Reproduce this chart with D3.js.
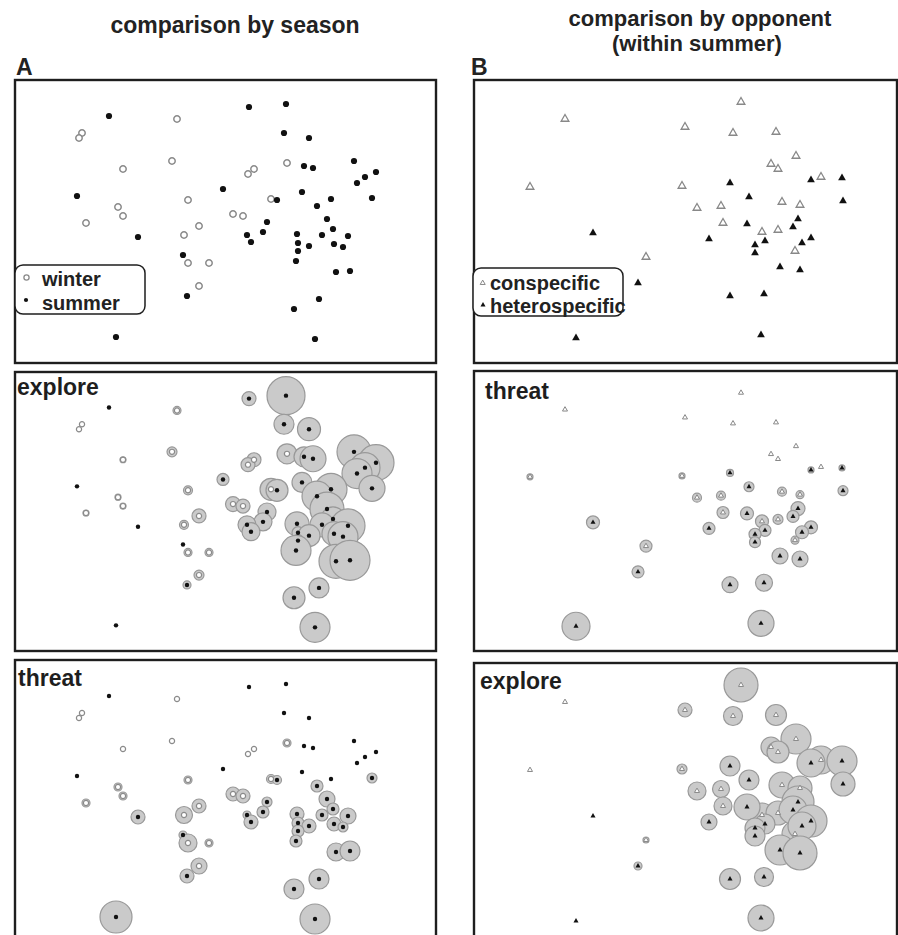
<!DOCTYPE html>
<html>
<head>
<meta charset="utf-8">
<script src="https://cdn.jsdelivr.net/npm/d3@7"></script>
<style>
  body { margin: 0; background: #fff; }
  svg { display: block; }
  text { font-family: Arial, "Liberation Sans", sans-serif; }
</style>
</head>
<body>
<svg width="898" height="935"></svg>
<script>
// ---- A: comparison by season (ordination scores, arbitrary units) ----
var seasonA = ["S","W","W","W","W","W","S","S","W","W","W","W","W","S","W","S","W","W","W","S","S","W",
               "S","S","S","S","W","S","S","S","W","W","S","S","S","S","W","S","S","S","S","W","S","S",
               "S","S","S","S","S","S","S","S","S","S","S","S","S","S","S","S","S","S"];
var axis1A = [94,162,67,64,157,108,208,62,173,103,108,71,184,123,169,168,173,194,184,172,101,218,
              234,271,269,294,272,289,298,339,239,233,361,350,342,287,256,262,357,316,302,228,312,252,
              318,248,232,282,307,333,236,283,294,319,328,283,281,321,335,304,279,300];
var axis2A = [247,244,230,225,202,194,174,167,163,156,147,140,137,126,128,108,100,100,77,67,26,149,
              256,259,230,225,200,197,195,202,194,189,191,186,180,171,164,163,165,164,157,147,144,141,
              134,131,128,129,128,127,121,120,117,119,116,112,102,91,92,64,54,24];
var exploreA = [0,4,0,0,5,3,6,0,4.5,3,3,3,7,0,4.5,0,4,4,5,4,0,7.5,
                7,19,10,11.5,10,10,13,17,7,7,18,15,15,10,11,11,13,16,15,7,17,9,
                12,9,9,12,12,17,9,6,11,12,15,6,15,17,20,10,11,15];
var threatA = [0,0,0,0,0,0,0,0,4,4,4,4,7,7,8.5,4,9,4,8,7,16,7,
               0,0,0,0,4,0,0,0,0,0,0,0,0,0,4.5,4.5,5,0,6,7,8,5,
               6,6,4,7,6,8,7,6,7,7,5,6,6,9,10,10,10,15];

// ---- B: comparison by opponent (within summer) ----
var opponentB = ["C","C","C","C","C","C","C","C","C","C","C","C","C","C","C","C","C","C","C","C",
                 "H","H","H","H","H","H","H","H","H","H","H","H","H","H","H","H","H","H","H","H","H","H"];
var axis1B = [91,211,56,208,172,267,259,302,322,297,304,347,223,247,308,326,249,288,304,321,
              119,164,102,256,337,368,275,369,324,273,319,235,291,337,281,328,281,306,326,256,290,287];
var axis2B = [244,236,176,177,106,261,230,231,207,199,194,186,155,157,161,158,140,131,133,112,
              130,80,25,180,183,185,166,162,144,139,136,124,122,125,118,120,110,96,93,67,69,28];
var threatB = [0,0,3,3,6,0,0,0,0,0,0,0,4.5,4.5,4.5,4,6,6.5,5,4,
               6.5,6,14,3.5,3,3,5,5,7,6.5,6,6,6,6.5,6,6.5,5.5,8,8,8,8.5,13];
var exploreB = [0,7,0,5,3,17,9.5,10.5,15,10,11,14,9,8.5,13,12,9,12,12,13,
                0,4,0,10,14,15,10,12,16,13,14,8,10,16,10,14,10,15,17,10.5,9.5,13];

var dataA = d3.range(seasonA.length).map(function(i) {
  return {g: seasonA[i], x: axis1A[i], y: axis2A[i], explore: exploreA[i], threat: threatA[i]};
});
var dataB = d3.range(opponentB.length).map(function(i) {
  return {g: opponentB[i], x: axis1B[i], y: axis2B[i], explore: exploreB[i], threat: threatB[i]};
});

var svg = d3.select("svg");
var ink = "#1e1e1e";

// bubble radius scale (score -> px)
var rScale = d3.scaleLinear().domain([0, 20]).range([0, 20]);

var panels = [
  {data: dataA, kind: "A", box: [15, 80, 436, 363],  xmax: 421, size: null},
  {data: dataA, kind: "A", box: [15, 372, 436, 651], xmax: 421, size: "explore", lx: 17,  ly: 395},
  {data: dataA, kind: "A", box: [15, 660, 436, 943], xmax: 421, size: "threat",  lx: 18,  ly: 686},
  {data: dataB, kind: "B", box: [474, 80, 897, 363], xmax: 423, size: null},
  {data: dataB, kind: "B", box: [474, 371, 897, 651], xmax: 423, size: "threat",  lx: 485, ly: 399},
  {data: dataB, kind: "B", box: [474, 663, 897, 946], xmax: 423, size: "explore", lx: 480, ly: 689}
];

panels.forEach(function(p) {
  var x = d3.scaleLinear().domain([0, p.xmax]).range([p.box[0], p.box[2]]);
  var y = d3.scaleLinear().domain([0, 283]).range([p.box[3], p.box[1]]);
  var g = svg.append("g");
  var big = p.size === null;

  g.append("rect")
      .attr("x", p.box[0]).attr("y", p.box[1])
      .attr("width", p.box[2] - p.box[0]).attr("height", p.box[3] - p.box[1])
      .attr("fill", "#fff").attr("stroke", ink).attr("stroke-width", 2.4);

  if (p.size) {
    g.append("g").selectAll("circle")
      .data(p.data.filter(function(d) { return d[p.size] > 0; }))
      .enter().append("circle")
        .attr("cx", function(d) { return x(d.x); })
        .attr("cy", function(d) { return y(d.y); })
        .attr("r", function(d) { return rScale(d[p.size]); })
        .attr("fill", "#cacaca")
        .attr("stroke", "#999")
        .attr("stroke-width", 1.2);
  }

  var pts = g.append("g").selectAll("path")
    .data(p.data)
    .enter().append("path")
      .attr("transform", function(d) { return "translate(" + x(d.x) + "," + y(d.y) + ")"; });

  if (p.kind === "A") {
    pts.attr("d", function(d) {
        var r = d.g === "W" ? (big ? 3.2 : 2.6) : (big ? 3.1 : 2.2);
        return d3.symbol(d3.symbolCircle, Math.PI * r * r)();
      })
      .attr("fill", function(d) { return d.g === "W" ? "#fff" : "#111"; })
      .attr("stroke", function(d) { return d.g === "W" ? "#8a8a8a" : "none"; })
      .attr("stroke-width", big ? 1.5 : 1.2);
  } else {
    pts.attr("d", d3.symbol(d3.symbolTriangle, big ? 26 : 11)())
      .attr("fill", function(d) { return d.g === "C" ? "#fff" : "#111"; })
      .attr("stroke", function(d) { return d.g === "C" ? "#888" : "none"; })
      .attr("stroke-width", big ? 1.3 : 1);
  }

  if (p.size) {
    g.append("text")
        .attr("x", p.lx).attr("y", p.ly)
        .attr("font-size", 23).attr("font-weight", "bold").attr("fill", ink)
        .text(p.size);
  }
});

// titles and panel letters
function label(txt, x, y, size, anchor) {
  svg.append("text")
      .attr("x", x).attr("y", y)
      .attr("text-anchor", anchor || "start")
      .attr("font-size", size).attr("font-weight", "bold").attr("fill", "#222")
      .text(txt);
}
label("comparison by season", 235, 33, 23, "middle");
label("comparison by opponent", 700, 26, 22, "middle");
label("(within summer)", 697, 51, 22, "middle");
label("A", 16, 75, 23);
label("B", 471, 75, 23);

// legend A
var legA = svg.append("g");
legA.append("rect")
    .attr("x", 15).attr("y", 265).attr("width", 130).attr("height", 49).attr("rx", 8)
    .attr("fill", "#fff").attr("stroke", ink).attr("stroke-width", 1.5);
legA.append("circle").attr("cx", 26.5).attr("cy", 277.5).attr("r", 2.6)
    .attr("fill", "#fff").attr("stroke", "#8a8a8a").attr("stroke-width", 1.3);
legA.append("circle").attr("cx", 26).attr("cy", 300).attr("r", 2.1).attr("fill", "#111");
legA.append("text").attr("x", 42).attr("y", 286).attr("font-size", 20)
    .attr("font-weight", "bold").attr("fill", "#222").text("winter");
legA.append("text").attr("x", 42).attr("y", 310).attr("font-size", 20)
    .attr("font-weight", "bold").attr("fill", "#222").text("summer");

// legend B
var legB = svg.append("g");
legB.append("rect")
    .attr("x", 473).attr("y", 268).attr("width", 150).attr("height", 48).attr("rx", 8)
    .attr("fill", "#fff").attr("stroke", ink).attr("stroke-width", 1.5);
legB.append("path").attr("transform", "translate(482.7,283)")
    .attr("d", d3.symbol(d3.symbolTriangle, 11)())
    .attr("fill", "#fff").attr("stroke", "#888").attr("stroke-width", 1);
legB.append("path").attr("transform", "translate(483,305)")
    .attr("d", d3.symbol(d3.symbolTriangle, 11)())
    .attr("fill", "#111");
legB.append("text").attr("x", 490).attr("y", 290).attr("font-size", 20)
    .attr("font-weight", "bold").attr("fill", "#222").text("conspecific");
legB.append("text").attr("x", 490).attr("y", 313).attr("font-size", 20)
    .attr("font-weight", "bold").attr("fill", "#222").text("heterospecific");
</script>
</body>
</html>
